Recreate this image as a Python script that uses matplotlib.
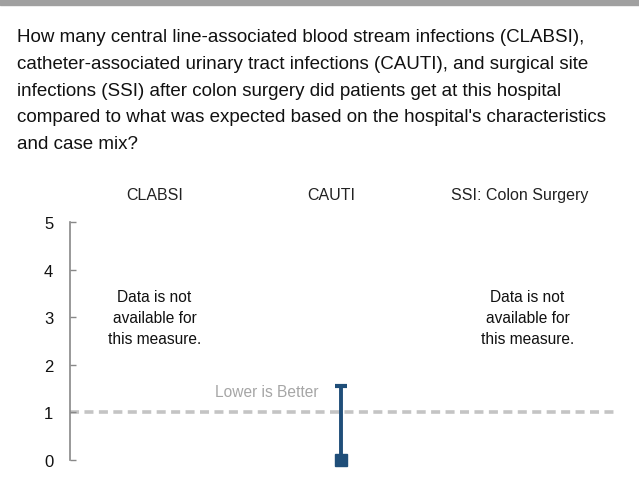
import matplotlib
matplotlib.use("Agg")
import matplotlib.pyplot as plt

plt.rcParams["font.family"] = ["Liberation Sans", "DejaVu Sans"]

# data
measures = ["CLABSI", "CAUTI", "SSI: Colon Surgery"]
point_values = [None, 0.0, None]
upper_values = [None, 1.55, None]
benchmark = 1.0
y_ticks = [0, 1, 2, 3, 4, 5]
question_lines = [
    "How many central line-associated blood stream infections (CLABSI),",
    "catheter-associated urinary tract infections (CAUTI), and surgical site",
    "infections (SSI) after colon surgery did patients get at this hospital",
    "compared to what was expected based on the hospital's characteristics",
    "and case mix?",
]
NA_TEXT = "Data is not\navailable for\nthis measure."
BLUE = "#1f4e79"

# layout: header centres (data units) do not sit exactly over the columns
header_x = [0.0, 0.946, 1.96]

W, H = 639, 502
fig = plt.figure(figsize=(W / 100, H / 100), dpi=100)

# gray banner across the top
fig.patches.append(plt.Rectangle((0, 1 - 6 / H), 1, 6 / H, transform=fig.transFigure,
                                 color="#a0a0a0", zorder=0))
for k, line in enumerate(question_lines):
    fig.text(17 / W, 1 - (42 + 26.8 * k) / H, line, ha="left", va="baseline",
             fontsize=13.5, color="#111111")

ax = fig.add_axes([70 / W, 41 / H, 545 / W, 238 / H])
ax.set_xlim(-0.453, 2.469)
ax.set_ylim(0, 5)

for hx, name in zip(header_x, measures):
    ax.text(hx, 1 + 23 / 238, name, transform=ax.get_xaxis_transform(),
            ha="center", va="baseline", fontsize=11.5, color="#222222")

ax.axhline(benchmark, color="#c4c4c4", linestyle=(0, (2.5, 1.5)), linewidth=2.6,
           zorder=1)
ax.text(0.877, 1.43, "Lower is Better", ha="right", va="center", fontsize=11.2,
        color="#a6a6a6")

for i, (pv, uv) in enumerate(zip(point_values, upper_values)):
    if pv is None:
        ax.text(i, 3.0, NA_TEXT, ha="center", va="center", fontsize=11.2,
                linespacing=1.5, color="#111111")
        continue
    ax.plot([i, i], [pv, uv], color=BLUE, linewidth=2.8, zorder=3,
            solid_capstyle="butt")
    ax.plot([i - 0.032, i + 0.032], [uv, uv], color=BLUE, linewidth=3, zorder=3,
            solid_capstyle="butt")
    ax.plot([i], [pv], marker="s", markersize=9, color=BLUE, zorder=4, clip_on=False)

ax.set_yticks(y_ticks)
ax.set_xticks([])
ax.tick_params(axis="y", direction="in", length=4, width=1, color="#888888",
               labelsize=12, pad=12, labelcolor="#111111")
for s in ["top", "right", "bottom"]:
    ax.spines[s].set_visible(False)
ax.spines["left"].set_color("#888888")
ax.spines["left"].set_linewidth(1.2)

fig.savefig("out.png", dpi=100)
